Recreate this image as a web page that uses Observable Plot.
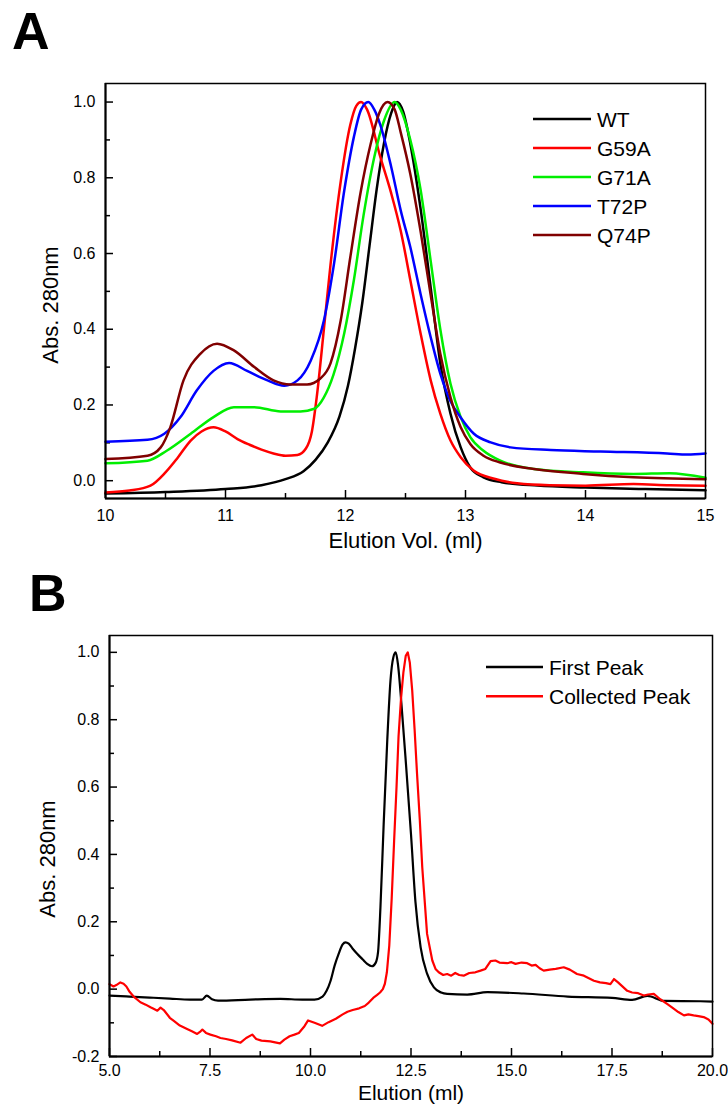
<!DOCTYPE html>
<html><head><meta charset="utf-8">
<script src="https://cdn.jsdelivr.net/npm/d3@7"></script>
<script src="https://cdn.jsdelivr.net/npm/@observablehq/plot@0.6"></script>
<style>
body{margin:0;background:#fff;}
#root{position:relative;width:728px;height:1108px;font-family:"Liberation Sans",Arial,sans-serif;overflow:hidden;}
.panel{position:absolute;left:0;}
.letter{position:absolute;font-weight:bold;font-size:52px;line-height:1;color:#000;}
#overlay{position:absolute;left:0;top:0;pointer-events:none;}
</style></head><body><div id="root"></div><script>
// ---------- Panel A data (Elution Vol. ml, Abs 280nm normalised) ----------
const seriesA = ["WT", "G59A", "G71A", "T72P", "Q74P"];
const colorsA = ["#000000", "#ff0000", "#00ee00", "#0000ff", "#800000"];
const wt = [[10.0,-0.034],[10.5,-0.030],[11.0,-0.022],[11.3,-0.012],[11.5,0.004],[11.65,0.025],[11.75,0.055],[11.85,0.10],[11.95,0.17],[12.02,0.25],[12.08,0.35],[12.14,0.47],[12.2,0.62],[12.26,0.77],[12.32,0.89],[12.38,0.97],[12.43,1.0],[12.48,0.975],[12.54,0.89],[12.625,0.72],[12.71,0.51],[12.79,0.31],[12.875,0.177],[12.96,0.088],[13.04,0.035],[13.15,0.009],[13.3,-0.004],[13.6,-0.013],[14.0,-0.018],[14.5,-0.022],[15.0,-0.025]];
const g59a = [[10.0,-0.031],[10.2,-0.026],[10.375,-0.013],[10.5,0.022],[10.6,0.06],[10.71,0.106],[10.8,0.13],[10.9,0.141],[11.0,0.13],[11.1,0.11],[11.2,0.095],[11.3,0.082],[11.4,0.072],[11.5,0.066],[11.6,0.068],[11.67,0.085],[11.72,0.13],[11.76,0.22],[11.82,0.40],[11.875,0.57],[11.96,0.79],[12.04,0.94],[12.09,0.99],[12.13,1.0],[12.18,0.98],[12.29,0.855],[12.38,0.76],[12.46,0.66],[12.54,0.53],[12.625,0.39],[12.71,0.265],[12.79,0.177],[12.875,0.106],[12.96,0.062],[13.07,0.026],[13.24,0.005],[13.43,-0.007],[13.7,-0.012],[14.0,-0.013],[14.4,-0.009],[14.7,-0.012],[15.0,-0.013]];
const g71a = [[10.0,0.046],[10.35,0.053],[10.51,0.079],[10.71,0.124],[10.9,0.168],[11.07,0.194],[11.24,0.194],[11.46,0.183],[11.625,0.183],[11.74,0.19],[11.82,0.22],[11.9,0.28],[11.99,0.39],[12.07,0.53],[12.15,0.70],[12.24,0.855],[12.32,0.95],[12.41,1.0],[12.46,0.98],[12.54,0.90],[12.625,0.77],[12.71,0.58],[12.79,0.40],[12.875,0.256],[12.96,0.168],[13.04,0.115],[13.15,0.079],[13.29,0.053],[13.57,0.031],[13.98,0.022],[14.4,0.018],[14.7,0.02],[15.0,0.008]];
const t72p = [[10.0,0.103],[10.35,0.108],[10.49,0.124],[10.625,0.168],[10.76,0.238],[10.9,0.29],[11.03,0.311],[11.18,0.29],[11.35,0.265],[11.49,0.251],[11.6,0.265],[11.71,0.317],[11.82,0.423],[11.9,0.564],[11.99,0.767],[12.07,0.908],[12.13,0.98],[12.19,1.0],[12.24,0.98],[12.29,0.94],[12.38,0.83],[12.46,0.714],[12.54,0.617],[12.625,0.494],[12.71,0.379],[12.79,0.283],[12.875,0.21],[12.96,0.167],[13.07,0.124],[13.21,0.101],[13.375,0.088],[13.71,0.081],[14.125,0.077],[14.68,0.072],[14.85,0.069],[15.0,0.072]];
const q74p = [[10.0,0.057],[10.35,0.066],[10.46,0.088],[10.54,0.141],[10.65,0.265],[10.79,0.335],[10.93,0.362],[11.07,0.344],[11.24,0.30],[11.4,0.265],[11.54,0.254],[11.68,0.254],[11.79,0.27],[11.875,0.31],[11.96,0.423],[12.04,0.59],[12.125,0.76],[12.21,0.89],[12.28,0.97],[12.35,1.0],[12.41,0.98],[12.46,0.92],[12.54,0.81],[12.625,0.66],[12.71,0.49],[12.79,0.335],[12.875,0.22],[12.96,0.141],[13.04,0.097],[13.15,0.066],[13.29,0.048],[13.57,0.031],[13.98,0.018],[14.4,0.009],[15.0,0.004]];
const dataA = [wt, g59a, g71a, t72p, q74p];
const xTicksA = [10, 11, 12, 13, 14, 15];
const xMinorA = [10.5, 11.5, 12.5, 13.5, 14.5];
const yTicksA = [0.0, 0.2, 0.4, 0.6, 0.8, 1.0];
const yMinorA = [0.1, 0.3, 0.5, 0.7, 0.9];

// ---------- Panel B data ----------
const seriesB = ["First Peak", "Collected Peak"];
const colorsB = ["#000000", "#ff0000"];
const firstPeak = [[5.0,-0.019],[5.5,-0.022],[6.0,-0.025],[6.5,-0.028],[7.0,-0.031],[7.3,-0.031],[7.42,-0.019],[7.55,-0.030],[7.7,-0.034],[8.5,-0.031],[9.25,-0.029],[9.8,-0.031],[10.1,-0.031],[10.3,-0.022],[10.4,-0.005],[10.5,0.025],[10.6,0.07],[10.7,0.105],[10.8,0.133],[10.87,0.139],[10.95,0.135],[11.05,0.12],[11.16,0.105],[11.3,0.088],[11.41,0.075],[11.53,0.068],[11.62,0.078],[11.68,0.11],[11.74,0.243],[11.82,0.49],[11.91,0.74],[11.99,0.917],[12.06,0.985],[12.12,1.0],[12.18,0.96],[12.26,0.85],[12.38,0.66],[12.5,0.46],[12.61,0.26],[12.74,0.124],[12.9,0.046],[13.07,0.005],[13.25,-0.01],[13.4,-0.014],[13.9,-0.016],[14.4,-0.009],[15.3,-0.013],[16.4,-0.022],[17.5,-0.026],[18.0,-0.032],[18.38,-0.02],[18.8,-0.035],[19.7,-0.036],[20.0,-0.037]];
const collectedPeak = [[5.0,0.015],[5.1,0.008],[5.17,0.012],[5.27,0.02],[5.35,0.016],[5.42,0.008],[5.5,-0.008],[5.6,-0.022],[5.77,-0.039],[5.9,-0.046],[6.02,-0.054],[6.12,-0.06],[6.19,-0.064],[6.27,-0.055],[6.35,-0.062],[6.5,-0.085],[6.6,-0.094],[6.75,-0.108],[6.93,-0.118],[7.05,-0.125],[7.18,-0.133],[7.25,-0.127],[7.31,-0.12],[7.4,-0.13],[7.51,-0.135],[7.65,-0.14],[7.76,-0.145],[7.9,-0.148],[8.05,-0.152],[8.26,-0.159],[8.4,-0.145],[8.55,-0.135],[8.65,-0.148],[8.78,-0.153],[9.0,-0.155],[9.24,-0.161],[9.35,-0.15],[9.48,-0.14],[9.6,-0.135],[9.71,-0.13],[9.85,-0.11],[9.94,-0.093],[10.1,-0.1],[10.29,-0.109],[10.45,-0.098],[10.63,-0.088],[10.8,-0.075],[10.92,-0.067],[11.05,-0.062],[11.21,-0.057],[11.35,-0.05],[11.45,-0.04],[11.56,-0.026],[11.65,-0.018],[11.73,-0.01],[11.8,0.0],[11.85,0.016],[11.9,0.05],[11.96,0.13],[12.02,0.27],[12.08,0.44],[12.14,0.6],[12.19,0.75],[12.25,0.86],[12.31,0.94],[12.37,0.99],[12.42,1.0],[12.47,0.97],[12.53,0.887],[12.59,0.77],[12.65,0.64],[12.72,0.5],[12.78,0.362],[12.9,0.164],[13.03,0.085],[13.11,0.06],[13.19,0.05],[13.3,0.042],[13.4,0.045],[13.5,0.04],[13.6,0.048],[13.7,0.042],[13.81,0.04],[13.95,0.048],[14.1,0.05],[14.23,0.055],[14.35,0.06],[14.48,0.083],[14.6,0.085],[14.7,0.079],[14.89,0.077],[15.0,0.08],[15.1,0.075],[15.25,0.079],[15.39,0.077],[15.5,0.07],[15.6,0.072],[15.7,0.062],[15.8,0.055],[15.95,0.058],[16.1,0.06],[16.3,0.065],[16.45,0.058],[16.63,0.045],[16.8,0.04],[17.05,0.025],[17.2,0.02],[17.35,0.018],[17.46,0.015],[17.55,0.03],[17.65,0.02],[17.88,-0.005],[18.0,-0.01],[18.15,-0.012],[18.29,-0.019],[18.4,-0.016],[18.54,-0.014],[18.7,-0.03],[18.87,-0.044],[19.0,-0.055],[19.15,-0.068],[19.29,-0.078],[19.4,-0.075],[19.53,-0.078],[19.65,-0.08],[19.78,-0.083],[19.9,-0.09],[20.0,-0.103]];
const dataB = [firstPeak, collectedPeak];
const xTicksB = [5.0, 7.5, 10.0, 12.5, 15.0, 17.5, 20.0];
const xMinorB = [6.25, 8.75, 11.25, 13.75, 16.25, 18.75];
const yTicksB = [-0.2, 0.0, 0.2, 0.4, 0.6, 0.8, 1.0];
const yMinorB = [-0.1, 0.1, 0.3, 0.5, 0.7, 0.9];

const FONT = "'Liberation Sans', Arial, sans-serif";

function panel({width, height, mt, mb, ml, mr, xDomain, yDomain, xTicks, xMinor, yTicks, yMinor, xFmt, series, colors, lineWidth, curves, xTitle, yTitle, xTitleDy, yTitleDx, yTitleDy, xPad, titleSize}) {
  const pw = width - ml - mr, ph = height - mt - mb;
  const marks = [
    Plot.axisX({ticks: xTicks, tickSize: 0, tickPadding: xPad, tickFormat: xFmt, label: null, fontSize: 16}),
    Plot.axisY({ticks: yTicks, tickSize: 0, tickPadding: 10, tickFormat: d => d.toFixed(1), label: null, fontSize: 16}),
    Plot.tickY(yTicks, {y: d => d, insetRight: pw - 8, stroke: "black", strokeWidth: 1.5}),
    Plot.tickY(yMinor, {y: d => d, insetRight: pw - 5, stroke: "black", strokeWidth: 1.5}),
    Plot.tickX(xTicks, {x: d => d, insetTop: ph - 8, stroke: "black", strokeWidth: 1.5}),
    Plot.tickX(xMinor, {x: d => d, insetTop: ph - 5, stroke: "black", strokeWidth: 1.5}),
  ];
  series.forEach((s, i) => {
    marks.push(Plot.line(s, {x: d => d[0], y: d => d[1], stroke: colors[i], strokeWidth: lineWidth, curve: curves[i]}));
  });
  marks.push(Plot.frame({stroke: "black", strokeWidth: 1.5}));
  marks.push(Plot.ruleX([xDomain[0]], {stroke: "black", strokeWidth: 2}));
  marks.push(Plot.ruleY([yDomain[0]], {stroke: "black", strokeWidth: 2}));
  marks.push(Plot.text([xTitle], {frameAnchor: "bottom", dy: xTitleDy, fontSize: titleSize, fill: "black", textAnchor: "middle"}));
  marks.push(Plot.text([yTitle], {frameAnchor: "left", rotate: -90, dx: yTitleDx, dy: yTitleDy, fontSize: 22, fill: "black", textAnchor: "middle"}));
  return Plot.plot({
    width, height, marginTop: mt, marginBottom: mb, marginLeft: ml, marginRight: mr,
    style: {fontFamily: FONT, fontSize: "16px", color: "black", background: "white", overflow: "visible"},
    x: {domain: xDomain},
    y: {domain: yDomain},
    marks
  });
}

const root = document.getElementById("root");

const plotA = panel({
  width: 728, height: 560, mt: 83, mb: 62, ml: 105, mr: 23,
  xDomain: [10, 15], yDomain: [-0.047, 1.049],
  xTicks: xTicksA, xMinor: xMinorA, yTicks: yTicksA, yMinor: yMinorA,
  xFmt: d => String(d), series: dataA, colors: colorsA, lineWidth: 2.5,
  curves: ["monotone-x","monotone-x","monotone-x","monotone-x","monotone-x"],
  xTitle: "Elution Vol. (ml)", yTitle: "Abs. 280nm", xTitleDy: 49, yTitleDx: -55, yTitleDy: 14, xPad: 11, titleSize: 22
});
plotA.classList.add("panel"); plotA.style.top = "0px";
root.appendChild(plotA);

const plotB = panel({
  width: 728, height: 548, mt: 75, mb: 52, ml: 109, mr: 16,
  xDomain: [5, 20], yDomain: [-0.2, 1.05],
  xTicks: xTicksB, xMinor: xMinorB, yTicks: yTicksB, yMinor: yMinorB,
  xFmt: d => d.toFixed(1), series: dataB, colors: colorsB, lineWidth: 2.2,
  curves: ["monotone-x","linear"],
  xTitle: "Elution (ml)", yTitle: "Abs. 280nm", xTitleDy: 43, yTitleDx: -62, yTitleDy: 13, xPad: 8, titleSize: 21
});
plotB.classList.add("panel"); plotB.style.top = "560px";
root.appendChild(plotB);

// panel letters
const la = document.createElement("div"); la.className = "letter"; la.textContent = "A";
la.style.left = "12px"; la.style.top = "5px"; root.appendChild(la);
const lb = document.createElement("div"); lb.className = "letter"; lb.textContent = "B";
lb.style.left = "29px"; lb.style.top = "567px"; root.appendChild(lb);

// legends (overlay)
const ns = "http://www.w3.org/2000/svg";
const ov = document.createElementNS(ns, "svg");
ov.setAttribute("id", "overlay"); ov.setAttribute("width", 728); ov.setAttribute("height", 1108);
function legend(names, colors, x0, x1, tx, y0, step, fs, sw) {
  names.forEach((n, i) => {
    const y = y0 + i * step;
    const l = document.createElementNS(ns, "line");
    l.setAttribute("x1", x0); l.setAttribute("x2", x1); l.setAttribute("y1", y); l.setAttribute("y2", y);
    l.setAttribute("stroke", colors[i]); l.setAttribute("stroke-width", sw);
    ov.appendChild(l);
    const t = document.createElementNS(ns, "text");
    t.setAttribute("x", tx); t.setAttribute("y", y); t.setAttribute("dominant-baseline", "central");
    t.setAttribute("font-family", FONT); t.setAttribute("font-size", fs); t.setAttribute("fill", "black");
    t.textContent = n;
    ov.appendChild(t);
  });
}
legend(seriesA, colorsA, 533, 591, 597, 119, 29, 21, 2.5);
legend(seriesB, colorsB, 486, 543, 549, 667, 29.3, 21, 2.5);
root.appendChild(ov);
</script></body></html>
